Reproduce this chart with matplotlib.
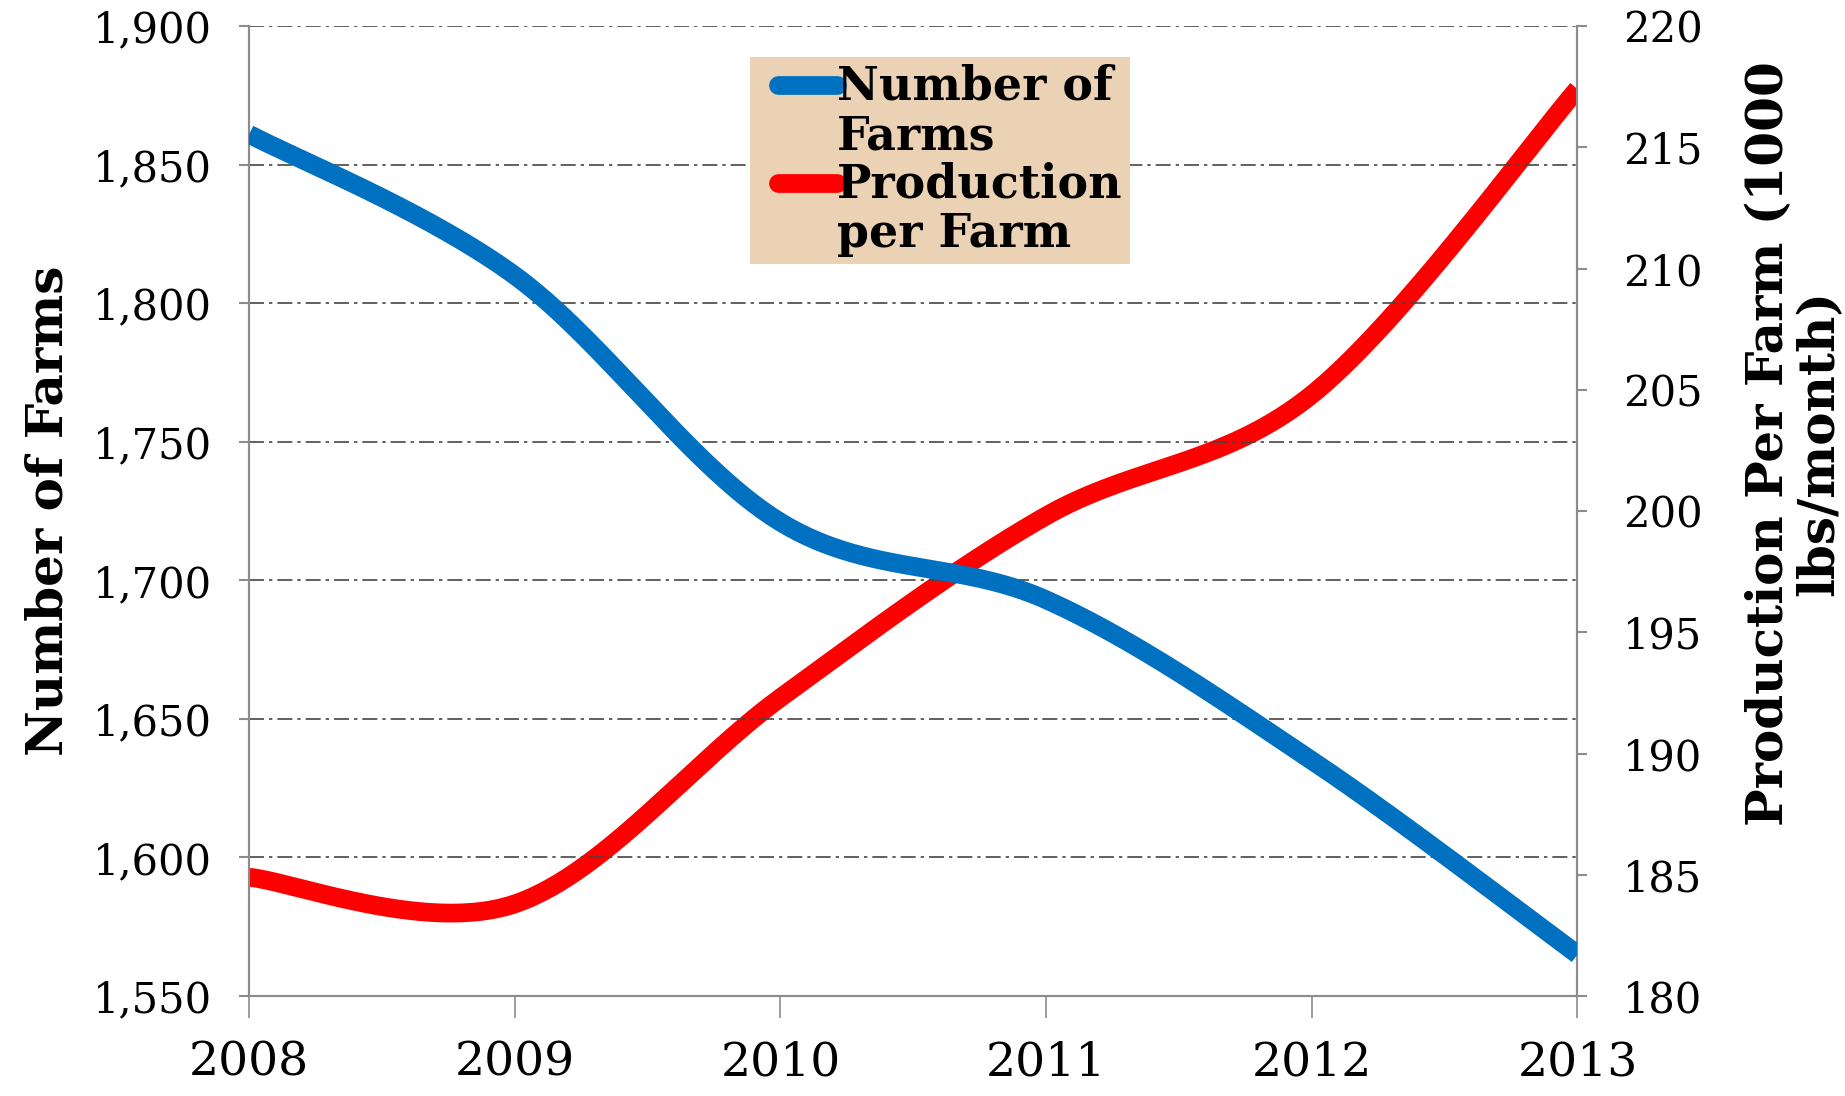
import matplotlib
matplotlib.use("Agg")
import matplotlib.pyplot as plt
from matplotlib.legend_handler import HandlerLine2D
import numpy as np

years = [2008, 2009, 2010, 2011, 2012, 2013]
farms = [1861, 1810, 1721, 1693, 1635, 1565]  # number of farms
prod = [184.9, 183.8, 192.3, 199.8, 204.8, 217.4]  # 1000 lbs/month per farm

blue = "#0070C0"
red = "#FF0000"


def smooth(x, y, n=60):
    # excel style smoothed line (bezier through the points)
    x = np.asarray(x, float)
    y = np.asarray(y, float)
    xs, ys = [], []
    for i in range(len(x) - 1):
        i0 = max(i - 1, 0)
        i3 = min(i + 2, len(x) - 1)
        p0 = np.array([x[i], y[i]])
        p3 = np.array([x[i + 1], y[i + 1]])
        p1 = p0 + (np.array([x[i + 1], y[i + 1]]) - np.array([x[i0], y[i0]])) / 6
        p2 = p3 - (np.array([x[i3], y[i3]]) - np.array([x[i], y[i]])) / 6
        t = np.linspace(0, 1, n)[:, None]
        pts = (1 - t)**3 * p0 + 3 * (1 - t)**2 * t * p1 + 3 * (1 - t) * t**2 * p2 + t**3 * p3
        xs.extend(pts[:, 0])
        ys.extend(pts[:, 1])
    return xs, ys


class TopLineHandler(HandlerLine2D):
    # put the legend line next to the first line of a two line label
    def create_artists(self, legend, orig_handle, xdescent, ydescent, width, height, fontsize, trans):
        arts = super().create_artists(legend, orig_handle, xdescent, ydescent, width, height, fontsize, trans)
        for a in arts:
            xd = np.asarray(a.get_xdata(), float)
            if len(xd) >= 2:
                a.set_xdata(np.linspace(xd[0] + 0.45 * fontsize, xd[-1], len(xd)))
            a.set_ydata(np.asarray(a.get_ydata()) + 0.62 * fontsize)
            a.set_solid_capstyle('round')
        return arts


plt.rcParams['font.family'] = ['DejaVu Serif']

fig = plt.figure(figsize=(18.45, 10.96), dpi=100)
ax = fig.add_axes([0.135, 0.0912, 0.72, 0.885])
ax2 = ax.twinx()

bx, by = smooth(years, farms)
rx, ry = smooth(years, prod)
l1, = ax.plot(bx, by, color=blue, lw=13.5, solid_capstyle='butt', label="Number of\nFarms", zorder=3)
l2, = ax2.plot(rx, ry, color=red, lw=13.5, solid_capstyle='butt', label="Production\nper Farm", zorder=3)

ax.set_xlim(2008, 2013)
ax.set_ylim(1550, 1900)
ax2.set_ylim(180, 220)
ax.set_yticks(range(1550, 1901, 50))
ax.set_yticklabels(["{:,}".format(v) for v in range(1550, 1901, 50)])
ax2.set_yticks(range(180, 221, 5))
ax.set_xticks(years)

ax.yaxis.grid(True, linestyle=(0, (9, 3, 2, 3)), color='#4a4440', lw=1.2)
ax.set_axisbelow(True)

for a in (ax, ax2):
    a.spines['top'].set_visible(False)
    for s in ('left', 'right', 'bottom'):
        a.spines[s].set_color('#8c8c8c')
        a.spines[s].set_linewidth(1.5)

ax.tick_params(axis='y', labelsize=30, length=7, width=1.5, color='#8c8c8c', pad=20)
ax2.tick_params(axis='y', labelsize=30, length=7, width=1.5, color='#8c8c8c', pad=26)
ax.tick_params(axis='x', labelsize=34, length=16, width=1.2, color='#8c8c8c', pad=16)

ax.set_ylabel("Number of Farms", fontsize=36, fontweight='bold', labelpad=14)
ax2.set_ylabel("Production Per Farm (1000\nlbs/month)", fontsize=36, fontweight='bold',
               linespacing=1.05)
ax2.yaxis.set_label_coords(1.126, 0.57)

leg = ax.legend(handles=[l1, l2], loc='upper left', bbox_to_anchor=(0.36, 0.992),
                frameon=True, fancybox=False, handlelength=1.75,
                handletextpad=0.0, borderpad=0.15, labelspacing=0.05,
                prop={'weight': 'bold', 'size': 33},
                handler_map={l1: TopLineHandler(), l2: TopLineHandler()})
for t in leg.get_texts():
    t.set_linespacing(1.1)
leg.get_frame().set_facecolor('#EBD2B4')
leg.get_frame().set_edgecolor('none')
leg.get_frame().set_alpha(1)
ax.set_zorder(ax2.get_zorder() + 1)
ax.patch.set_visible(False)

fig.savefig("out.png", dpi=100)
